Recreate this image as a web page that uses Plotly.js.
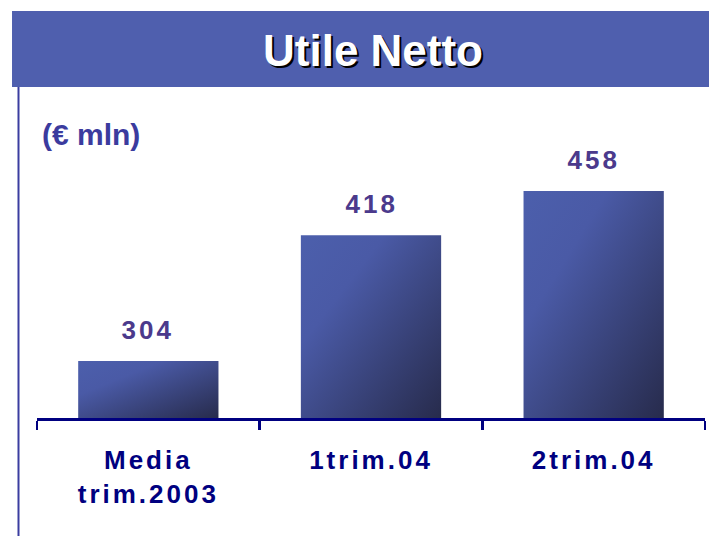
<!DOCTYPE html>
<html><head><meta charset="utf-8">
<script src="https://cdn.plot.ly/plotly-3.0.1.min.js"></script>
<style>
html,body{margin:0;padding:0;background:#fff;overflow:hidden;}
#chart{width:709px;height:536px;}
.xtick text{letter-spacing:3px;}
.annotation[data-index="0"] text,.annotation[data-index="1"] text,.annotation[data-index="2"] text{letter-spacing:3px;}
</style></head><body><div id="chart"></div>
<script>
const categories = ["Media<br>trim.2003", "1trim.04", "2trim.04"];
const values = [304, 418, 458];
const valueLabels = ["304", "418", "458"];
const chartTitle = "Utile Netto";
const unitLabel = "(€ mln)";

const axisMin = 252.4, axisMax = 540.4;
const navy = "#000080";
const labelPurple = "#4b3a8c";

const trace = {
  type: "bar",
  x: categories,
  y: values.map(v => v - axisMin),
  base: axisMin,
  width: 0.63,
  marker: {color: "#3f4b8c", line: {width: 0}},
  hoverinfo: "none",
  cliponaxis: true
};

const annotations = values.map((v, i) => ({
  xref: "x", yref: "y", x: categories[i], y: v,
  text: valueLabels[i], showarrow: false,
  yanchor: "bottom", xanchor: "center", yshift: 14,
  font: {family: "Liberation Sans, Arial, sans-serif", size: 26, color: labelPurple, weight: "bold"}
}));

annotations.push({
  xref: "paper", yref: "paper", x: 0.503, y: 1.157,
  text: chartTitle, showarrow: false, xanchor: "center", yanchor: "middle",
  font: {family: "Liberation Sans Narrow, Arial Narrow, Liberation Sans, sans-serif", size: 44,
         color: "#ffffff", weight: "bold", shadow: "2px 2px 0px #000000"}
});
annotations.push({
  xref: "paper", yref: "paper", x: 0.0045, y: 0.89,
  text: unitLabel, showarrow: false, xanchor: "left", yanchor: "middle",
  font: {family: "Liberation Sans, Arial, sans-serif", size: 30, color: "#3b3b9e", weight: "bold"}
});

const layout = {
  width: 709, height: 536,
  margin: {l: 37, r: 4, t: 100, b: 118, pad: 0},
  paper_bgcolor: "#ffffff", plot_bgcolor: "#ffffff",
  showlegend: false,
  xaxis: {
    type: "category", showgrid: false, zeroline: false,
    showline: true, linecolor: navy, linewidth: 3,
    ticks: "outside", tickson: "boundaries", ticklen: 9, tickwidth: 2.5, tickcolor: navy,
    tickfont: {family: "Liberation Sans, Arial, sans-serif", size: 26, color: navy, weight: "bold"},
    ticklabelstandoff: 17,
    fixedrange: true
  },
  yaxis: {range: [axisMin, axisMax], visible: false, fixedrange: true},
  shapes: [
    {type: "rect", xref: "paper", yref: "paper", x0: -0.0374, x1: 1.01, y0: 1.0409, y1: 1.2799,
     fillcolor: "#4f5fae", line: {width: 0}, layer: "below"},
    {type: "line", xref: "paper", yref: "paper", x0: -0.0277, x1: -0.0277, y0: -0.40, y1: 1.0409,
     line: {color: "#3a3da0", width: 2}}
  ],
  annotations: annotations
};

Plotly.newPlot("chart", [trace], layout, {displayModeBar: false, staticPlot: true}).then(gd => {
  const svg = gd.querySelector("svg.main-svg");
  const ns = "http://www.w3.org/2000/svg";
  let defs = svg.querySelector("defs");
  if (!defs) { defs = document.createElementNS(ns, "defs"); svg.insertBefore(defs, svg.firstChild); }
  const grad = document.createElementNS(ns, "linearGradient");
  grad.setAttribute("id", "barGrad");
  grad.setAttribute("x1", "0"); grad.setAttribute("y1", "0");
  grad.setAttribute("x2", "1"); grad.setAttribute("y2", "1");
  [["0", "#4c5fac"], ["0.3", "#4a5aa6"], ["1", "#272b4c"]].forEach(([o, c]) => {
    const s = document.createElementNS(ns, "stop");
    s.setAttribute("offset", o); s.setAttribute("stop-color", c);
    grad.appendChild(s);
  });
  defs.appendChild(grad);
  gd.querySelectorAll(".trace.bars .point path").forEach(p => { p.style.fill = "url(#barGrad)"; });
});
</script></body></html>
